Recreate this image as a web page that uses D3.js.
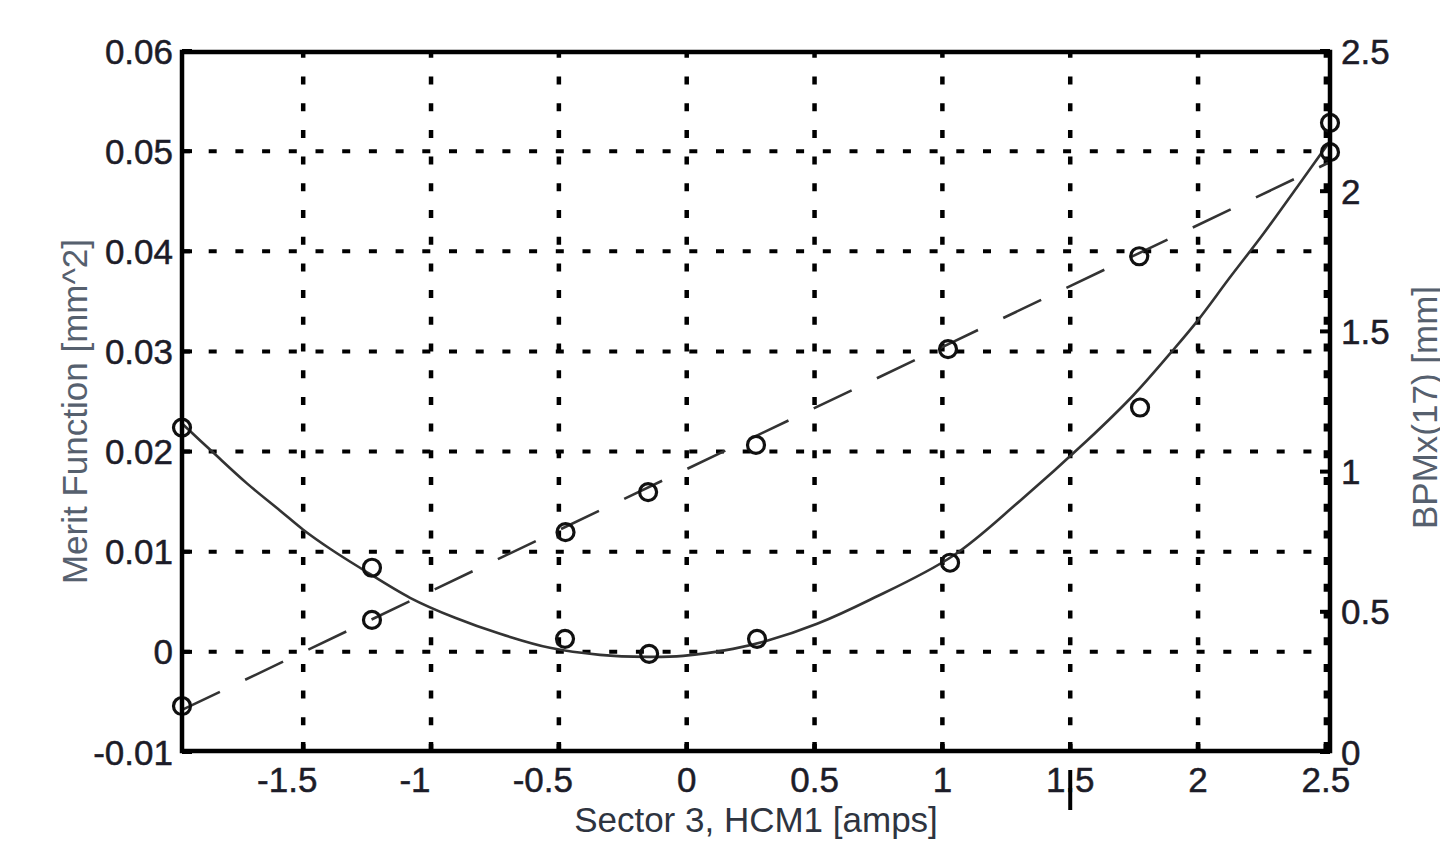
<!DOCTYPE html>
<html>
<head>
<meta charset="utf-8">
<script src="https://cdn.jsdelivr.net/npm/d3@7"></script>
<style>
  html, body { margin: 0; padding: 0; background: #fff; }
  svg { display: block; }
  text { font-family: "Liberation Sans", Arial, sans-serif; }
</style>
</head>
<body>
<svg id="chart" width="1440" height="842"></svg>
<script>
// ---- data ----
const xTicks = [-1.5, -1, -0.5, 0, 0.5, 1, 1.5, 2, 2.5];
const xTickLabels = ["-1.5", "-1", "-0.5", "0", "0.5", "1", "1.5", "2", "2.5"];
const yLeftTicks = [-0.01, 0, 0.01, 0.02, 0.03, 0.04, 0.05, 0.06];
const yLeftTickLabels = ["-0.01", "0", "0.01", "0.02", "0.03", "0.04", "0.05", "0.06"];
const yRightTicks = [0, 0.5, 1, 1.5, 2, 2.5];
const yRightTickLabels = ["0", "0.5", "1", "1.5", "2", "2.5"];

// merit function measurements (left axis)
const meritX = [-1.974, -1.231, -0.476, -0.147, 0.275, 1.030, 1.773, 2.516];
const meritY = [0.0224, 0.0084, 0.0013, -0.0002, 0.0013, 0.0089, 0.0244, 0.0499];
// merit function fitted curve (left axis)
const meritFitX = [-1.974, -1.852, -1.719, -1.590, -1.500, -1.395, -1.278, -1.082, -0.906, -0.730,
                   -0.535, -0.339, -0.155, -0.014, 0.181, 0.314, 0.510, 0.717, 1.042, 1.304,
                   1.566, 1.746, 1.891, 1.996, 2.125, 2.254, 2.387, 2.516];
const meritFitY = [0.0228, 0.0199, 0.0168, 0.0141, 0.0122, 0.0103, 0.0084, 0.0054, 0.0034, 0.0018,
                   0.0004, -0.0003, -0.0005, -0.0004, 0.0003, 0.0011, 0.0028, 0.0052, 0.0096, 0.0151,
                   0.0211, 0.0256, 0.0298, 0.0330, 0.0374, 0.0417, 0.0464, 0.0510];

// BPMx(17) measurements (right axis)
const bpmX = [-1.974, -1.231, -0.474, -0.151, 0.271, 1.022, 1.770, 2.516];
const bpmY = [0.164, 0.471, 0.784, 0.927, 1.095, 1.437, 1.768, 2.244];
// BPMx(17) linear fit (right axis)
const bpmFitX = [-1.974, 2.516];
const bpmFitY = [0.150, 2.104];

const xLabel = "Sector 3, HCM1 [amps]";
const yLeftLabel = "Merit Function [mm^2]";
const yRightLabel = "BPMx(17) [mm]";

// ---- drawing ----
const svg = d3.select("#chart");
const L = 182, R = 1330, T = 51, B = 752;

const x = d3.scaleLinear().domain([-1.974, 2.516]).range([L, R]);
const yL = d3.scaleLinear().domain([-0.01, 0.06]).range([B, T]);
const yR = d3.scaleLinear().domain([0, 2.5]).range([B, T]);

const gridDash = "8,18.7";
const g = svg.append("g");

// vertical grid (drawn from bottom upward)
g.selectAll("line.vgrid").data(xTicks).enter().append("line")
  .attr("x1", d => x(d)).attr("x2", d => x(d))
  .attr("y1", B).attr("y2", T)
  .attr("stroke", "#000").attr("stroke-width", 4.5)
  .attr("stroke-dasharray", gridDash);

// horizontal grid
g.selectAll("line.hgrid").data(yLeftTicks.filter(d => d > -0.01 && d < 0.06)).enter().append("line")
  .attr("x1", L).attr("x2", R)
  .attr("y1", d => yL(d)).attr("y2", d => yL(d))
  .attr("stroke", "#000").attr("stroke-width", 4)
  .attr("stroke-dasharray", gridDash);

// inward ticks
const tickLen = 10;
g.selectAll("line.xt").data(xTicks).enter().append("line")
  .attr("x1", d => x(d)).attr("x2", d => x(d))
  .attr("y1", B).attr("y2", B - tickLen)
  .attr("stroke", "#000").attr("stroke-width", 4.5);
g.selectAll("line.ylt").data(yLeftTicks).enter().append("line")
  .attr("x1", L).attr("x2", L + tickLen)
  .attr("y1", d => yL(d)).attr("y2", d => yL(d))
  .attr("stroke", "#000").attr("stroke-width", 4);
g.selectAll("line.yrt").data(yRightTicks).enter().append("line")
  .attr("x1", R).attr("x2", R - tickLen)
  .attr("y1", d => yR(d)).attr("y2", d => yR(d))
  .attr("stroke", "#000").attr("stroke-width", 4);

// BPM linear fit (dashed)
const bpmFit = bpmFitX.map((v, i) => [v, bpmFitY[i]]);
g.append("path").datum(bpmFit)
  .attr("d", d3.line().x(d => x(d[0])).y(d => yR(d[1])))
  .attr("fill", "none").attr("stroke", "#333").attr("stroke-width", 2.6)
  .attr("stroke-dasharray", "42,28");

// merit fitted curve (solid)
const meritFit = meritFitX.map((v, i) => [v, meritFitY[i]]);
g.append("path").datum(meritFit)
  .attr("d", d3.line().curve(d3.curveCatmullRom).x(d => x(d[0])).y(d => yL(d[1])))
  .attr("fill", "none").attr("stroke", "#333").attr("stroke-width", 2.6);

// markers
const mR = 8.5;
g.selectAll("circle.m").data(meritX.map((v, i) => [v, meritY[i]])).enter().append("circle")
  .attr("cx", d => x(d[0])).attr("cy", d => yL(d[1])).attr("r", mR)
  .attr("fill", "none").attr("stroke", "#111").attr("stroke-width", 3.2);
g.selectAll("circle.b").data(bpmX.map((v, i) => [v, bpmY[i]])).enter().append("circle")
  .attr("cx", d => x(d[0])).attr("cy", d => yR(d[1])).attr("r", mR)
  .attr("fill", "none").attr("stroke", "#111").attr("stroke-width", 3.2);

// frame
g.append("rect").attr("x", L).attr("y", T + 1).attr("width", R - L).attr("height", B - T - 2)
  .attr("fill", "none").attr("stroke", "#000").attr("stroke-width", 4.5);

// tick labels
const tickColor = "#1c1c28";
const fs = 35;
svg.selectAll("text.xl").data(xTicks).enter().append("text")
  .attr("x", d => x(d) + (d < 0 ? -16 : 0)).attr("y", 792)
  .attr("text-anchor", "middle").attr("font-size", fs).attr("fill", tickColor)
  .attr("stroke", tickColor).attr("stroke-width", 0.5)
  .text((d, i) => xTickLabels[i]);
svg.selectAll("text.yll").data(yLeftTicks).enter().append("text")
  .attr("x", 173).attr("y", d => yL(d) + 12.5)
  .attr("text-anchor", "end").attr("font-size", fs).attr("fill", tickColor)
  .attr("stroke", tickColor).attr("stroke-width", 0.5)
  .text((d, i) => yLeftTickLabels[i]);
svg.selectAll("text.yrl").data(yRightTicks).enter().append("text")
  .attr("x", 1341).attr("y", d => yR(d) + 12.5)
  .attr("text-anchor", "start").attr("font-size", fs).attr("fill", tickColor)
  .attr("stroke", tickColor).attr("stroke-width", 0.5)
  .text((d, i) => yRightTickLabels[i]);

// axis labels
svg.append("text").attr("x", (L + R) / 2).attr("y", 832)
  .attr("text-anchor", "middle").attr("font-size", fs).attr("fill", "#2e3440")
  .text(xLabel);
svg.append("text").attr("transform", `translate(87, ${(T + B) / 2 + 10}) rotate(-90)`)
  .attr("text-anchor", "middle").attr("font-size", fs).attr("fill", "#56606e")
  .text(yLeftLabel);
svg.append("text").attr("transform", `translate(1437, ${(T + B) / 2 + 6}) rotate(-90)`)
  .attr("text-anchor", "middle").attr("font-size", fs).attr("fill", "#56606e")
  .text(yRightLabel);

// small vertical mark through the "1.5" label seen in the reference
svg.append("line").attr("x1", x(1.5)).attr("x2", x(1.5)).attr("y1", 770).attr("y2", 810)
  .attr("stroke", "#000").attr("stroke-width", 4);
</script>
</body>
</html>
